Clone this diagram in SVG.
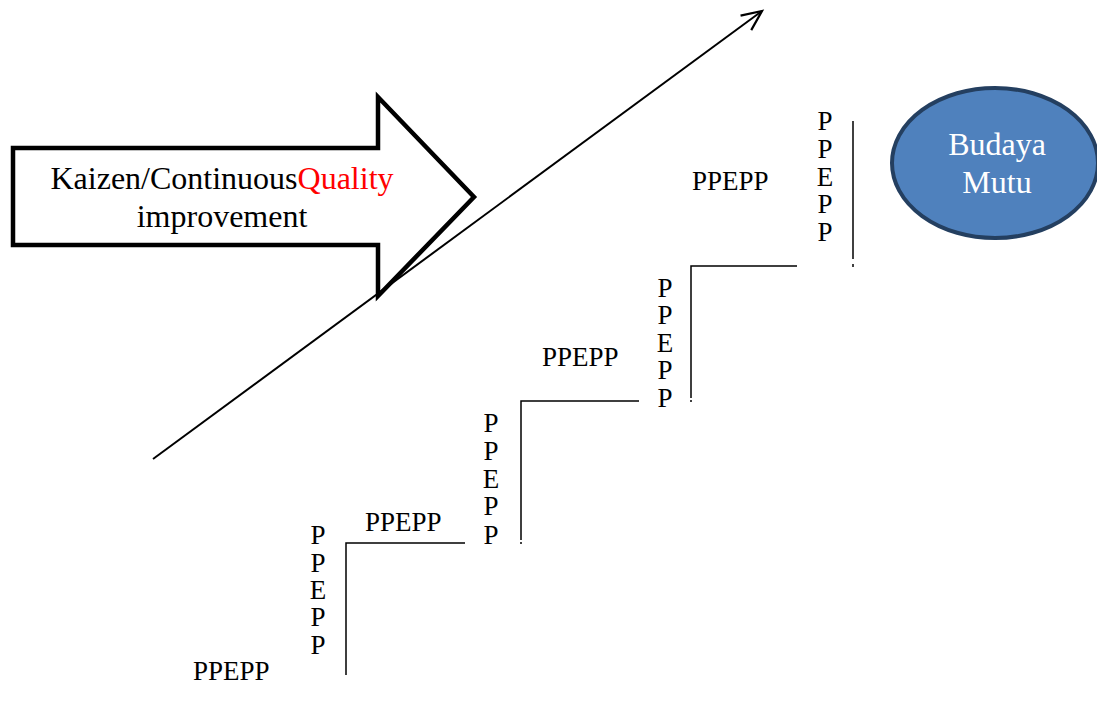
<svg xmlns="http://www.w3.org/2000/svg" width="1097" height="706" viewBox="0 0 1097 706">
<style>
.t{font-family:"Liberation Serif","Times New Roman",serif;fill:#000}
.big{font-size:32px}
.sm{font-size:27px}
.stair{stroke:#000;stroke-width:1.5;fill:none}
</style>
<defs>
<marker id="open" markerWidth="26" markerHeight="26" refX="22" refY="13" orient="auto" markerUnits="userSpaceOnUse">
<path d="M2,4 L22,13 L2,22" fill="none" stroke="#000" stroke-width="2.2"/>
</marker>
</defs>
<rect width="1097" height="706" fill="#fff"/>
<g id="kaizen-arrow">
<path d="M13,148 L378,148 L378,97 L474,197 L378,296 L378,245 L13,245 Z" fill="#fff" stroke="#000" stroke-width="4.5" stroke-linejoin="miter"/>
<text class="t big" x="222" y="189" text-anchor="middle">Kaizen/Continuous<tspan fill="#ff0000">Quality</tspan></text>
<text class="t big" x="222" y="227" text-anchor="middle">improvement</text>
</g>
<g id="connectors">
<line x1="153" y1="459" x2="762" y2="11" stroke="#000" stroke-width="2" marker-end="url(#open)"/>
</g>
<g id="stairs">
<polyline class="stair" points="346,675 346,543 465,543"/>
<polyline class="stair" points="521,540 521,401 639,401"/>
<line x1="521" y1="542" x2="521" y2="544" stroke="#000" stroke-width="1.5"/>
<polyline class="stair" points="691,398 691,266 797,266"/>
<line x1="691" y1="400" x2="691" y2="402" stroke="#000" stroke-width="1.5"/>
<line x1="853" y1="121" x2="853" y2="259" stroke="#000" stroke-width="1.5"/>
<line x1="853" y1="264" x2="853" y2="267" stroke="#000" stroke-width="1.5"/>
</g>
<g id="step1">
<text class="t sm" x="193" y="680">PPEPP</text>
<text class="t sm" x="318" y="544" text-anchor="middle">P</text>
<text class="t sm" x="318" y="572" text-anchor="middle">P</text>
<text class="t sm" x="318" y="599" text-anchor="middle">E</text>
<text class="t sm" x="318" y="626" text-anchor="middle">P</text>
<text class="t sm" x="318" y="654" text-anchor="middle">P</text>
</g>
<g id="step2">
<text class="t sm" x="365" y="531">PPEPP</text>
<text class="t sm" x="491" y="432" text-anchor="middle">P</text>
<text class="t sm" x="491" y="460" text-anchor="middle">P</text>
<text class="t sm" x="491" y="488" text-anchor="middle">E</text>
<text class="t sm" x="491" y="515" text-anchor="middle">P</text>
<text class="t sm" x="491" y="544" text-anchor="middle">P</text>
</g>
<g id="step3">
<text class="t sm" x="542" y="366">PPEPP</text>
<text class="t sm" x="665" y="297" text-anchor="middle">P</text>
<text class="t sm" x="665" y="324" text-anchor="middle">P</text>
<text class="t sm" x="665" y="352" text-anchor="middle">E</text>
<text class="t sm" x="665" y="379" text-anchor="middle">P</text>
<text class="t sm" x="665" y="407" text-anchor="middle">P</text>
</g>
<g id="step4">
<text class="t sm" x="692" y="190">PPEPP</text>
<text class="t sm" x="825" y="130" text-anchor="middle">P</text>
<text class="t sm" x="825" y="158" text-anchor="middle">P</text>
<text class="t sm" x="825" y="186" text-anchor="middle">E</text>
<text class="t sm" x="825" y="213" text-anchor="middle">P</text>
<text class="t sm" x="825" y="241" text-anchor="middle">P</text>
</g>
<g id="budaya-mutu">
<ellipse cx="995" cy="163" rx="103" ry="75" fill="#4F81BD" stroke="#243F60" stroke-width="4"/>
<text class="t big" x="997" y="155" text-anchor="middle" style="fill:#fff">Budaya</text>
<text class="t big" x="997" y="193" text-anchor="middle" style="fill:#fff">Mutu</text>
</g>
</svg>
